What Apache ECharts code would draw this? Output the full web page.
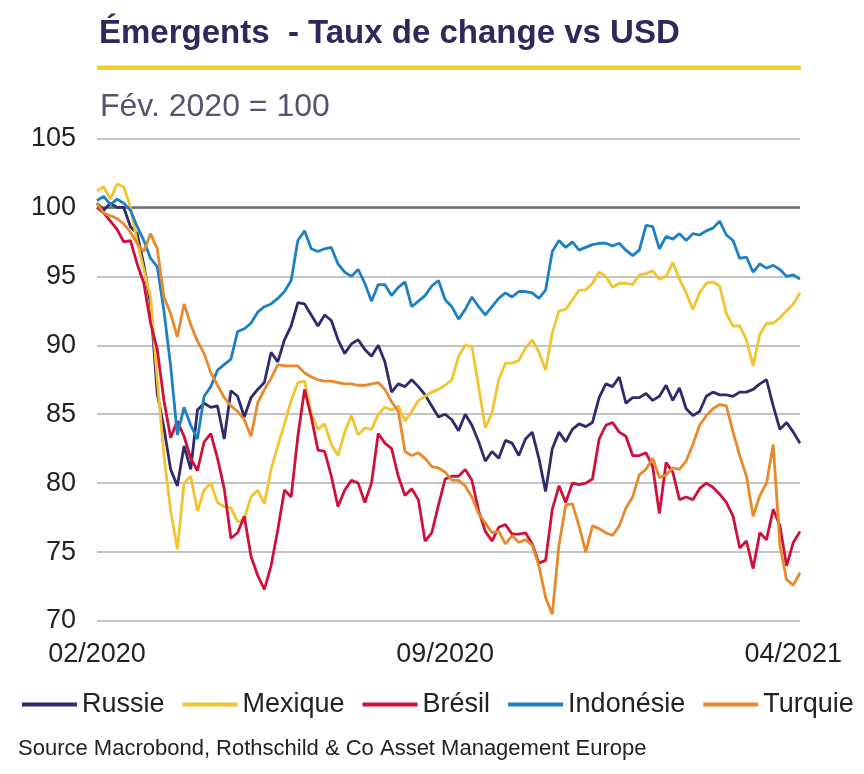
<!DOCTYPE html>
<html>
<head>
<meta charset="utf-8">
<script src="https://cdn.jsdelivr.net/npm/echarts@6/dist/echarts.min.js"></script>
<style>
html,body{margin:0;padding:0;background:#fff;}
#chart{width:864px;height:774px;}
</style>
</head>
<body>
<div id="chart"></div>
<script>
// ---- Data (index = sampling step between 02/2020 and 04/2021) ----
const seriesNames = ['Russie', 'Mexique', 'Brésil', 'Indonésie', 'Turquie'];

const russie = [100.3,99.8,100.3,100.0,100.0,98.6,98.1,95.8,93.0,86.5,
  84.0,81.0,79.8,82.7,81.0,85.3,85.8,85.5,85.6,83.2,
  86.7,86.3,84.8,86.2,86.8,87.3,89.5,88.8,90.4,91.4,
  93.1,93.0,92.2,91.4,92.2,91.8,90.4,89.4,90.1,90.4,
  89.7,89.2,90.0,88.8,86.6,87.2,87.0,87.5,87.0,86.4,
  85.6,84.8,85.0,84.6,83.8,85.0,84.2,83.0,81.6,82.3,
  81.8,83.1,82.9,82.0,83.2,83.7,81.8,79.4,82.5,83.7,
  83.0,83.9,84.3,84.1,84.4,86.2,87.2,87.0,87.7,85.8,
  86.2,86.2,86.5,86.0,86.3,87.1,86.0,86.9,85.4,84.9,
  85.2,86.3,86.6,86.4,86.4,86.3,86.6,86.6,86.8,87.2,
  87.5,85.6,83.9,84.4,83.7,82.9];

const mexique = [101.2,101.5,100.6,101.7,101.5,100.0,97.5,95.5,93.5,87.5,
  82.0,78.0,75.2,80.0,80.5,78.0,79.5,80.0,78.6,78.3,
  78.2,77.2,77.4,79.0,79.5,78.5,81.0,82.7,84.3,86.0,
  87.3,87.4,85.1,83.9,84.3,82.8,82.0,83.7,84.9,83.5,
  84.0,83.9,85.0,85.5,85.3,85.6,84.5,85.2,86.0,86.3,
  86.6,86.8,87.1,87.5,89.2,90.0,89.9,87.0,84.0,85.1,
  87.5,88.7,88.7,88.9,89.8,90.4,89.5,88.2,90.9,92.5,
  92.6,93.3,94.0,94.0,94.5,95.3,95.0,94.2,94.5,94.5,
  94.4,95.1,95.2,95.4,94.8,95.0,96.0,94.8,93.8,92.6,
  93.8,94.5,94.6,94.3,92.3,91.4,91.4,90.4,88.5,90.8,
  91.6,91.6,92.0,92.5,93.0,93.8];

const bresil = [100.0,99.6,99.0,98.4,97.5,97.6,95.9,94.5,91.6,89.7,
  86.0,83.3,84.5,83.4,81.8,80.9,83.0,83.6,81.8,79.6,
  76.0,76.4,77.6,74.7,73.3,72.3,74.0,76.6,79.5,79.0,
  83.4,86.8,84.8,82.4,82.3,80.5,78.3,79.5,80.2,80.0,
  78.6,80.0,83.6,82.9,82.5,80.5,79.1,79.6,78.8,75.8,
  76.4,78.4,80.3,80.5,80.5,81.0,80.2,78.0,76.5,75.8,
  76.8,77.0,76.3,76.3,76.4,75.6,74.2,74.4,78.1,79.8,
  78.6,80.0,79.9,80.0,80.3,83.2,84.2,84.4,83.7,83.4,
  82.0,82.0,82.2,81.2,77.8,81.5,80.8,78.8,79.0,78.8,
  79.6,80.0,79.7,79.2,78.6,77.6,75.3,75.8,73.8,76.4,
  75.9,78.1,76.9,74.0,75.7,76.5];

const indonesie = [100.5,100.8,100.2,100.6,100.3,99.8,98.6,97.6,96.3,95.7,
  92.5,88.5,83.5,85.5,84.2,83.2,86.3,87.0,88.2,88.6,
  89.0,91.0,91.2,91.6,92.4,92.8,93.0,93.4,93.9,94.7,
  97.6,98.3,97.0,96.8,97.0,97.1,95.9,95.3,95.0,95.5,
  94.5,93.2,94.4,94.4,93.6,94.2,94.6,92.8,93.2,93.6,
  94.3,94.7,93.3,92.8,91.9,92.6,93.5,92.8,92.2,92.8,
  93.4,93.8,93.5,93.9,93.9,93.8,93.4,94.0,96.8,97.6,
  97.1,97.5,96.9,97.1,97.3,97.4,97.4,97.2,97.4,96.9,
  96.5,96.9,98.7,98.6,97.0,97.9,97.7,98.1,97.6,98.1,
  98.0,98.3,98.5,99.0,98.0,97.6,96.3,96.4,95.3,95.9,
  95.6,95.8,95.5,95.0,95.1,94.8];

const turquie = [100.3,99.6,99.4,99.2,98.8,98.2,97.4,96.8,98.1,97.0,
  93.5,92.3,90.6,93.0,91.5,90.3,89.4,88.0,87.1,86.2,
  85.6,85.2,84.6,83.4,85.8,86.8,87.6,88.6,88.5,88.5,
  88.5,88.0,87.7,87.5,87.4,87.4,87.3,87.2,87.2,87.1,
  87.1,87.2,87.3,86.8,85.9,85.2,82.3,82.0,82.2,81.8,
  81.2,81.1,80.8,80.2,80.2,79.8,79.0,77.8,77.1,76.4,
  76.5,75.6,76.2,75.7,75.9,75.5,74.0,71.7,70.5,75.5,
  78.4,78.5,76.9,75.0,76.9,76.7,76.4,76.2,76.9,78.2,
  79.0,80.6,81.0,81.8,80.4,80.6,81.1,81.0,81.6,82.8,
  84.2,84.9,85.4,85.7,85.6,83.7,82.0,80.5,77.6,79.1,
  80.0,82.8,75.5,73.0,72.6,73.5];

const categories = russie.map((_, i) => i);
const tickIndex = [0, 52, 104];
const tickLabels = ['02/2020', '09/2020', '04/2021'];
const yTicks = [70, 75, 80, 85, 90, 95, 100, 105];

const colors = ['#2f2b6d', '#f2c430', '#d0103c', '#1d80c2', '#e8892a'];
const seriesData = [russie, mexique, bresil, indonesie, turquie];

const FONT = '"Liberation Sans", Arial, sans-serif';

const chart = echarts.init(document.getElementById('chart'), null, {renderer: 'canvas'});

const series = seriesNames.map((name, k) => ({
  name: name,
  type: 'line',
  data: seriesData[k],
  symbol: 'none',
  smooth: false,
  lineStyle: {width: 2.8, color: colors[k]},
  itemStyle: {color: colors[k]},
  z: 3 + k
}));

// darker reference line at 100
series[0].markLine = {
  silent: true,
  symbol: 'none',
  label: {show: false},
  lineStyle: {color: '#6e6e6e', width: 2.5, type: 'solid'},
  z: 2,
  data: [{yAxis: 100}]
};

chart.setOption({
  animation: false,
  backgroundColor: '#ffffff',
  title: [
    {
      text: 'Émergents  - Taux de change vs USD',
      left: 94, top: 12,
      textStyle: {fontFamily: FONT, fontSize: 33, fontWeight: 'bold', color: '#2c2a5c'}
    },
    {
      text: 'Fév. 2020 = 100',
      left: 95, top: 86,
      textStyle: {fontFamily: FONT, fontSize: 32, fontWeight: 'normal', color: '#56536f'}
    }
  ],
  graphic: [
    {
      type: 'rect',
      shape: {x: 97, y: 65.5, width: 704, height: 4.5},
      style: {fill: '#f1cf2f'}
    },
    {
      type: 'text',
      left: 18, top: 738,
      style: {text: 'Source Macrobond, Rothschild & Co Asset Management Europe',
              font: '22px ' + FONT, fill: '#222222'}
    }
  ],
  legend: {
    data: seriesNames,
    left: 17, top: 686,
    icon: 'rect',
    itemWidth: 55, itemHeight: 4,
    itemGap: 18,
    textStyle: {fontFamily: FONT, fontSize: 27, color: '#222222', padding: [0, 0, 0, 0]}
  },
  grid: {left: 97, right: 64, top: 138.5, bottom: 153, containLabel: false},
  xAxis: {
    type: 'category',
    data: categories,
    boundaryGap: false,
    axisLine: {show: false},
    axisTick: {show: false},
    splitLine: {show: false},
    axisLabel: {
      interval: (idx) => tickIndex.indexOf(idx) >= 0,
      formatter: (val, idx) => {
        const p = tickIndex.indexOf(Number(val));
        return p >= 0 ? tickLabels[p] : '';
      },
      fontFamily: FONT, fontSize: 27, color: '#222222', margin: 20,
      showMinLabel: true, showMaxLabel: true
    }
  },
  yAxis: {
    type: 'value',
    min: yTicks[0], max: yTicks[yTicks.length - 1], interval: 5,
    axisLine: {show: false},
    axisTick: {show: false},
    axisLabel: {fontFamily: FONT, fontSize: 27, color: '#222222', margin: 21},
    splitLine: {lineStyle: {color: '#c4c4c4', width: 2}}
  },
  series: series
});
</script>
</body>
</html>
